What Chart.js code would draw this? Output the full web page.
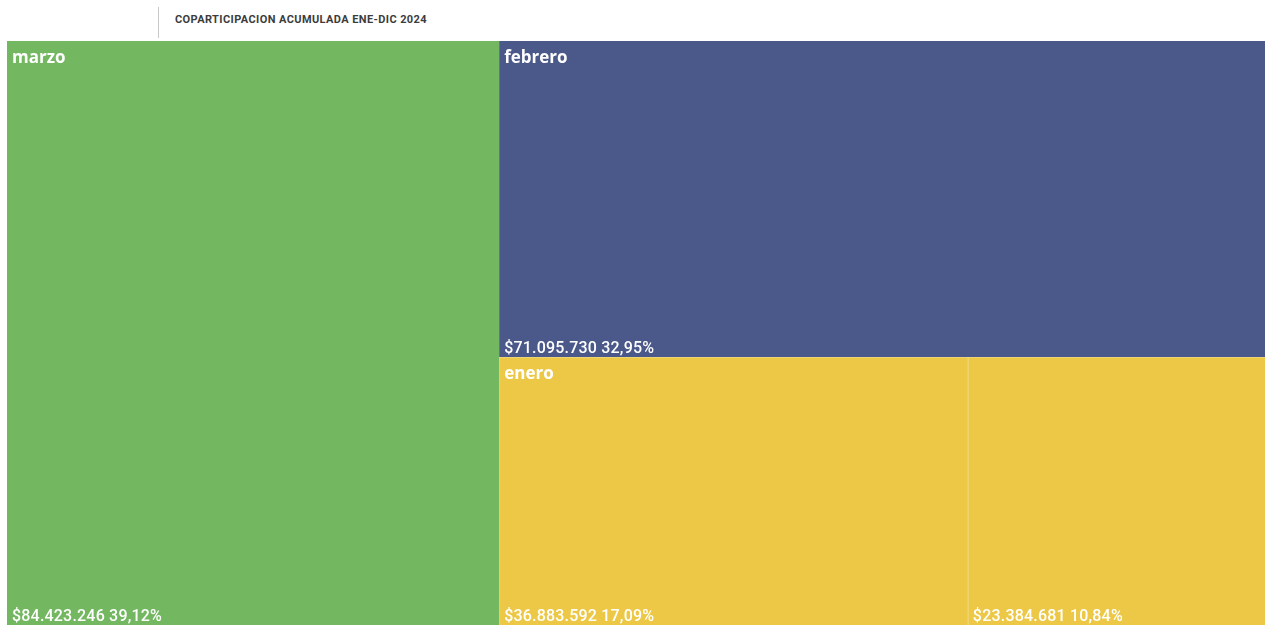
<!DOCTYPE html>
<html>
<head>
<meta charset="utf-8">
<script src="https://cdn.jsdelivr.net/npm/chart.js@4"></script>
<style>
  html, body { margin: 0; padding: 0; background: #fff; width: 1265px; height: 625px; overflow: hidden; }
  #head { position: absolute; left: 0; top: 0; width: 1265px; height: 41px; }
  #sep { position: absolute; left: 158px; top: 7px; width: 1px; height: 31px; background: #c8c8c8; }
  #title { position: absolute; left: 175px; top: 13px; font: bold 11px Roboto, sans-serif; letter-spacing: 0.4px; color: #3c3c3c; white-space: nowrap; }
  #wrap { position: absolute; left: 7px; top: 41px; width: 1258px; height: 584px; }
</style>
</head>
<body>
<div id="head"><div id="sep"></div><div id="title">COPARTICIPACION ACUMULADA ENE-DIC 2024</div></div>
<div id="wrap"><canvas id="myChart"></canvas></div>
<script>
// datos (mes, monto)
var meses = ['marzo', 'febrero', 'enero', 'enero'];
var montos = [84423246, 71095730, 36883592, 23384681];
var colores = {marzo: '#73B761', febrero: '#4A588A', enero: '#ECC846'};

var total = montos.reduce(function(a, b){ return a + b; }, 0);
var PHI = (1 + Math.sqrt(5)) / 2;

// formato 84.423.246 y 39,12%
function miles(n){
    return String(Math.round(n)).replace(/\B(?=(\d{3})+(?!\d))/g, '.');
}
function porc(n){
    return (n * 100).toFixed(2).replace('.', ',') + '%';
}

// agrupar por mes
function agrupar(){
    var grupos = [];
    for(var i=0;i<meses.length;i++){
        var g = grupos.find(function(x){ return x.nombre == meses[i]; });
        if(!g){
            g = {nombre: meses[i], value: 0, children: []};
            grupos.push(g);
        }
        g.value += montos[i];
        g.children.push({nombre: meses[i], value: montos[i]});
    }
    grupos.sort(function(a, b){ return b.value - a.value; });
    return grupos;
}

function dice(row, x0, y0, x1, y1){
    var s = row.reduce(function(a, b){ return a + b.value; }, 0);
    var k = (x1 - x0) / s;
    row.forEach(function(n){
        n.x0 = x0; n.y0 = y0; n.y1 = y1;
        n.x1 = x0 += n.value * k;
    });
}
function slice(row, x0, y0, x1, y1){
    var s = row.reduce(function(a, b){ return a + b.value; }, 0);
    var k = (y1 - y0) / s;
    row.forEach(function(n){
        n.x0 = x0; n.x1 = x1; n.y0 = y0;
        n.y1 = y0 += n.value * k;
    });
}

// squarify (ratio phi)
function squarify(nodes, x0, y0, x1, y1){
    var value = nodes.reduce(function(a, b){ return a + b.value; }, 0);
    var i0 = 0, n = nodes.length;
    while(i0 < n){
        var dx = x1 - x0, dy = y1 - y0;
        var i1 = i0;
        var sumValue = nodes[i1++].value;
        var minV = sumValue, maxV = sumValue;
        var alpha = Math.max(dy / dx, dx / dy) / (value * PHI);
        var beta = sumValue * sumValue * alpha;
        var minRatio = Math.max(maxV / beta, beta / minV);
        for(; i1 < n; ++i1){
            var v = nodes[i1].value;
            sumValue += v;
            if(v < minV) minV = v;
            if(v > maxV) maxV = v;
            beta = sumValue * sumValue * alpha;
            var r = Math.max(maxV / beta, beta / minV);
            if(r > minRatio){ sumValue -= v; break; }
            minRatio = r;
        }
        var row = nodes.slice(i0, i1);
        if(dx < dy){
            var yb = i1 < n ? y0 + dy * sumValue / value : y1;
            dice(row, x0, y0, x1, yb); y0 = yb;
        }else{
            var xb = i1 < n ? x0 + dx * sumValue / value : x1;
            slice(row, x0, y0, xb, y1); x0 = xb;
        }
        value -= sumValue;
        i0 = i1;
    }
}

var treemapPlugin = {
    id: 'treemap',
    afterDatasetsDraw: function(chart){
        var ctx = chart.ctx;
        var area = chart.chartArea;
        var sx = chart.scales.x, sy = chart.scales.y;
        var W = area.right - area.left, H = area.bottom - area.top;
        var grupos = agrupar();
        squarify(grupos, 0, 0, W, H);
        grupos.forEach(function(g){
            g.children.sort(function(a, b){ return b.value - a.value; });
            squarify(g.children, g.x0, g.y0, g.x1, g.y1);
        });

        function px(v){ return sx.getPixelForValue(v / W); }
        function py(v){ return sy.getPixelForValue(v / H); }

        ctx.save();
        grupos.forEach(function(g){
            g.children.forEach(function(c){
                var l = px(c.x0), t = py(c.y0), r = px(c.x1), b = py(c.y1);
                ctx.fillStyle = colores[g.nombre];
                ctx.fillRect(l, t, r - l, b - t);
                // lineas divisorias suaves
                ctx.fillStyle = 'rgba(255,255,255,0.2)';
                if(c.y0 > 0) ctx.fillRect(l, Math.round(t), r - l, 1);
                if(c.x0 > 0 && g.x0 != c.x0) ctx.fillRect(Math.round(l), t, 1, b - t);
                // monto y porcentaje
                ctx.fillStyle = '#ffffff';
                ctx.font = '500 16px Roboto, sans-serif';
                ctx.letterSpacing = '0.2px';
                ctx.textBaseline = 'alphabetic';
                ctx.textAlign = 'left';
                ctx.fillText('$' + miles(c.value) + ' ' + porc(c.value / total), l + 5, b - 4);
            });
            // nombre del mes
            ctx.fillStyle = '#ffffff';
            ctx.letterSpacing = '0px';
            ctx.font = 'bold 17px "Open Sans", sans-serif';
            ctx.fillText(g.nombre, px(g.x0) + 5, py(g.y0) + 22);
        });
        ctx.restore();
    }
};

var ctx = document.getElementById('myChart').getContext('2d');
var myChart = new Chart(ctx, {
    type: 'scatter',
    data: { datasets: [{ data: [] }] },
    options: {
        responsive: true,
        maintainAspectRatio: false,
        animation: false,
        layout: { padding: 0 },
        scales: {
            x: { type: 'linear', min: 0, max: 1, display: false },
            y: { type: 'linear', min: 0, max: 1, reverse: true, display: false }
        },
        plugins: {
            legend: { display: false },
            tooltip: { enabled: false }
        }
    },
    plugins: [treemapPlugin]
});
</script>
</body>
</html>
